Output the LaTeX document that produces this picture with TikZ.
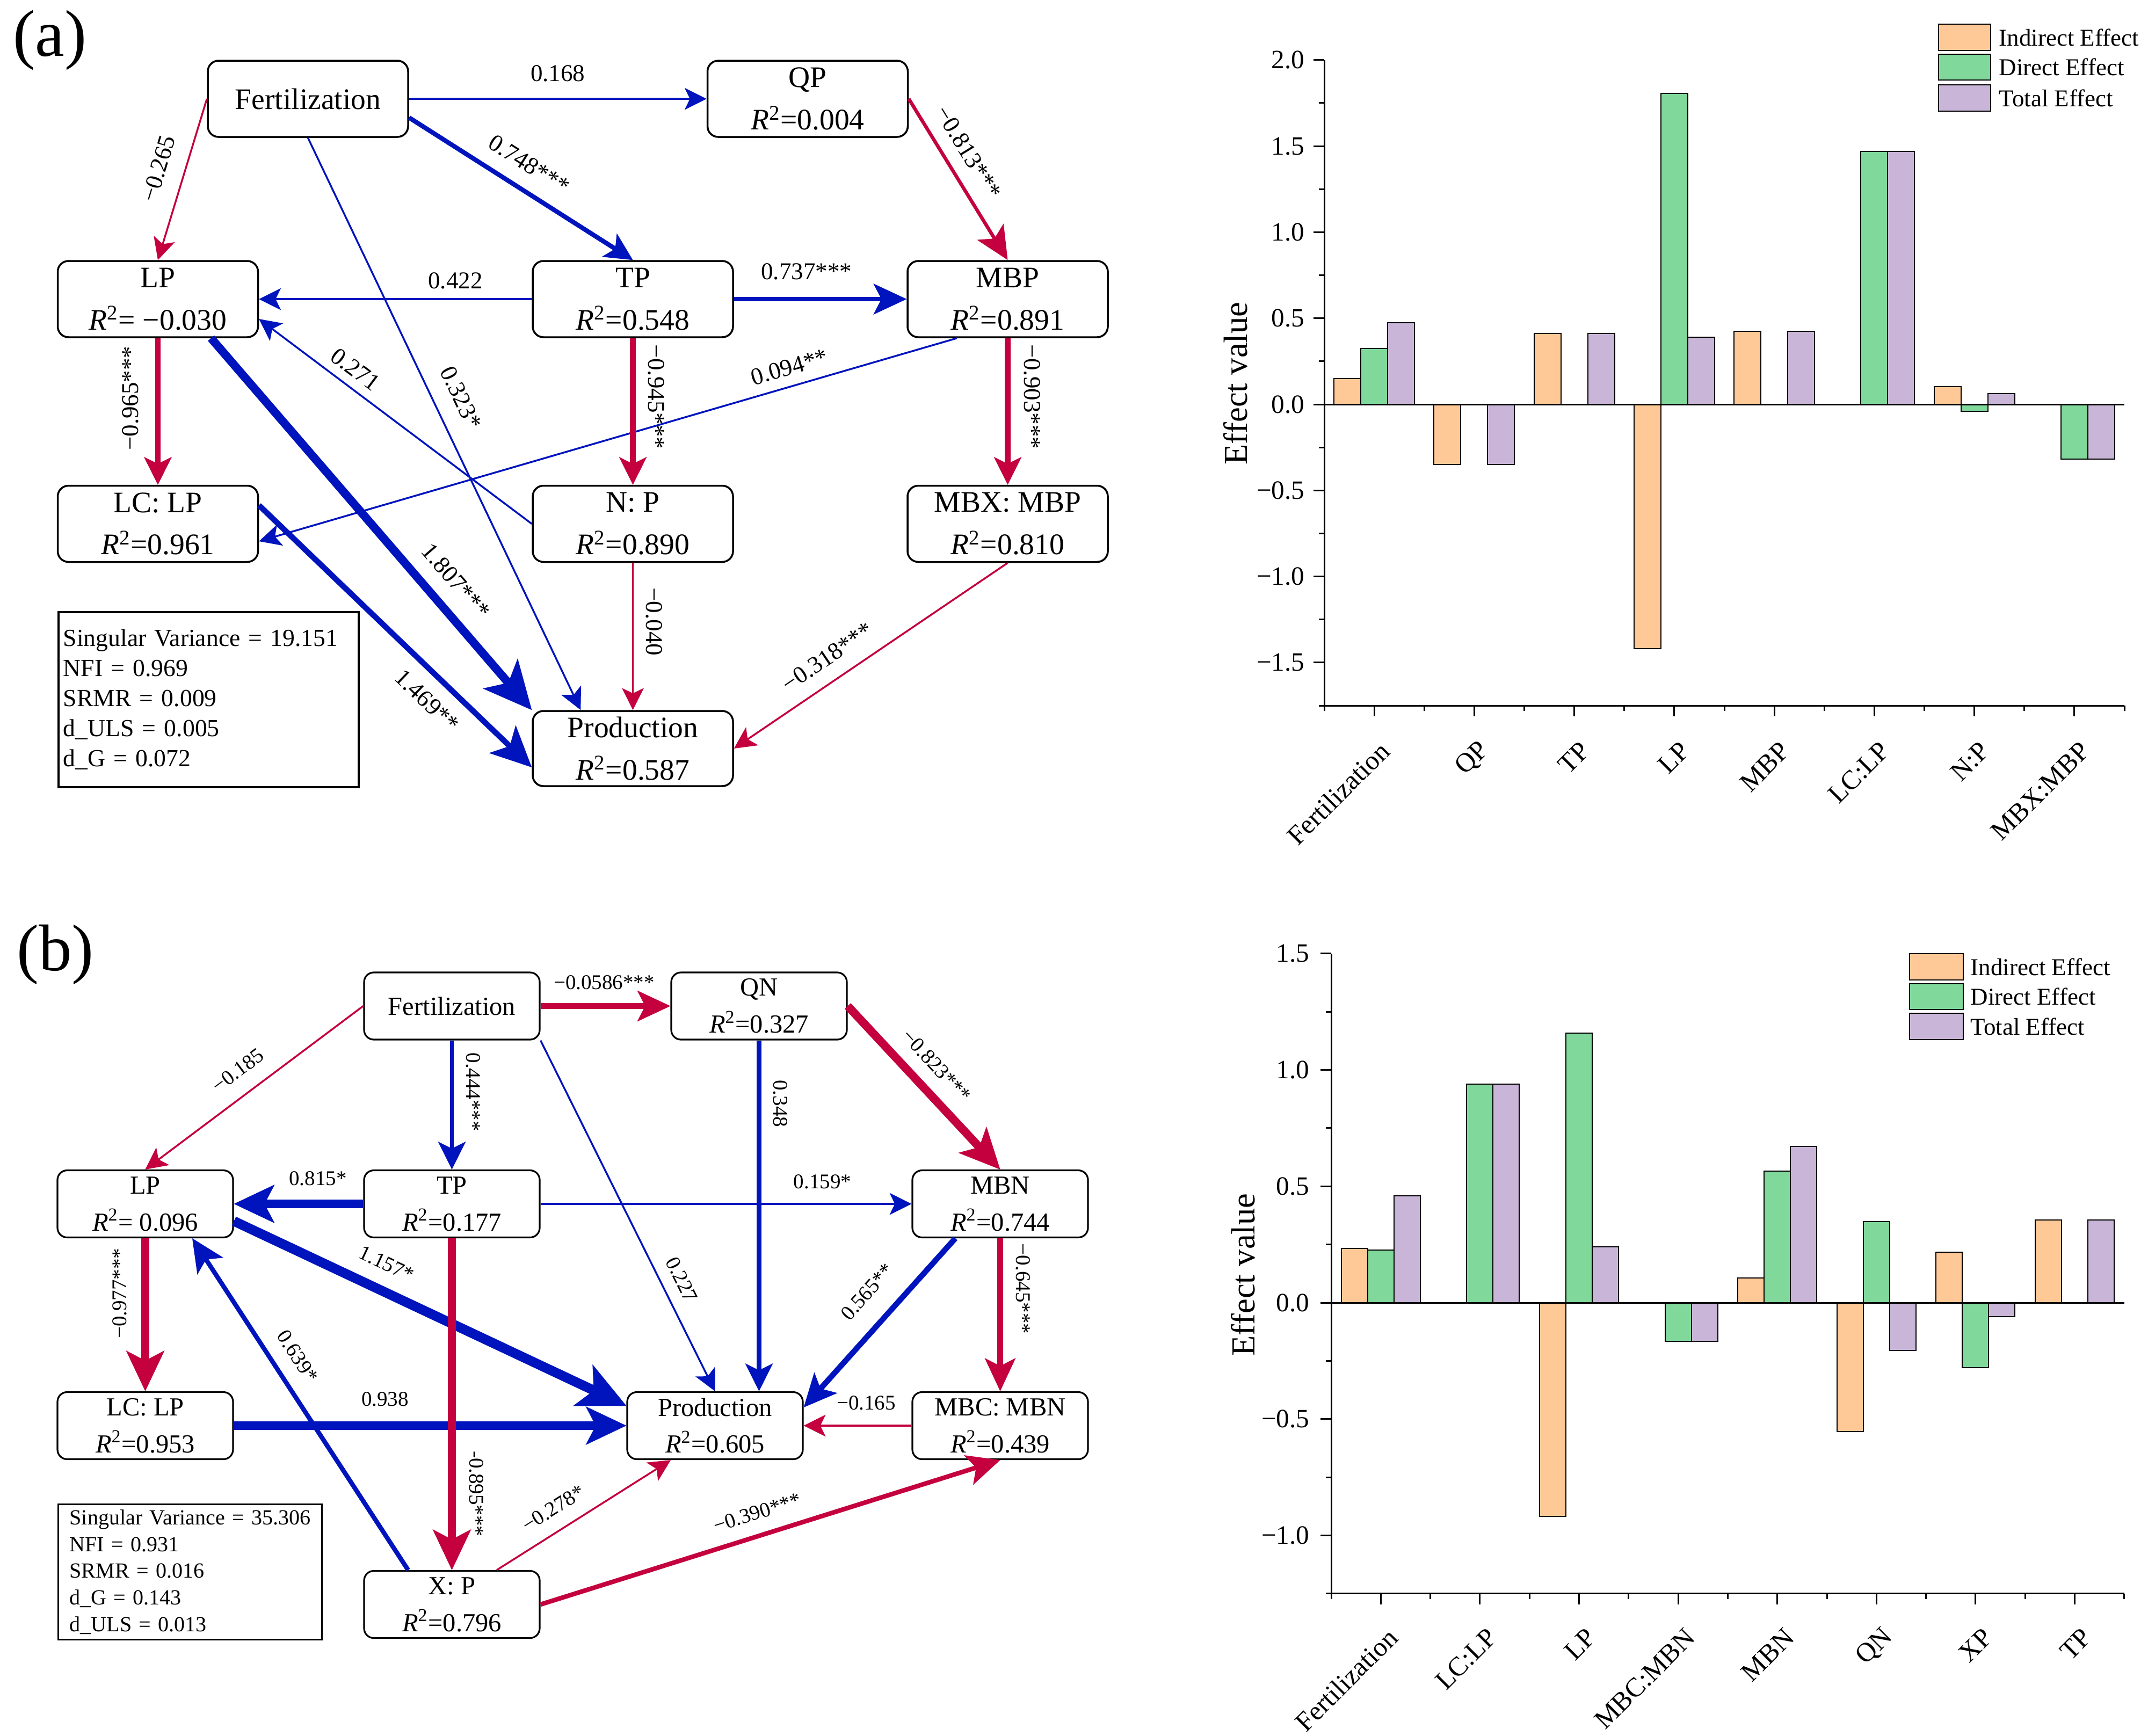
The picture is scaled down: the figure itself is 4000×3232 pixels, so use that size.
\documentclass[tikz,border=0pt]{standalone}
\usepackage{fontspec}
\setmainfont{Liberation Serif}
\usetikzlibrary{arrows.meta,calc}
\definecolor{blu}{RGB}{0,20,190}
\definecolor{rd}{RGB}{196,0,62}
\definecolor{cInd}{RGB}{255,201,151}
\definecolor{cDir}{RGB}{128,217,155}
\definecolor{cTot}{RGB}{201,181,215}
\newcommand\Rsq[1]{\textit{R}\textsuperscript{2}=#1}
\tikzset{
  boxa/.style={draw, line width=0.35mm, rounded corners=2mm, minimum width=37.3mm, minimum height=14.2mm, inner sep=0pt, align=center, font=\fontsize{15.8pt}{22.4pt}\selectfont},
  boxb/.style={draw, line width=0.32mm, rounded corners=1.8mm, minimum width=32.7mm, minimum height=12.5mm, inner sep=0pt, align=center, font=\fontsize{13.8pt}{19.6pt}\selectfont},
  laba/.style={font=\fontsize{12.8pt}{14pt}\selectfont, inner sep=0.3mm},
  labb/.style={font=\fontsize{11.1pt}{13pt}\selectfont, inner sep=0.3mm},
  panel/.style={font=\fontsize{35pt}{40pt}\selectfont, inner sep=0pt},
  statsa/.style={draw, line width=0.35mm, anchor=north west, minimum width=55.9mm, minimum height=32.6mm, inner xsep=0.9mm, inner ysep=0pt, text width=54.1mm, align=left, font=\fontsize{13pt}{15.9pt}\selectfont},
  statsb/.style={draw, line width=0.32mm, anchor=north west, minimum width=49.1mm, minimum height=25.2mm, inner xsep=2.1mm, inner ysep=0pt, text width=44.9mm, align=left, font=\fontsize{11.4pt}{14.2pt}\selectfont},
  pb/.style={draw=blu},
  pr/.style={draw=rd},
  wa/.style={line width=0.34mm},
  wb/.style={line width=0.45mm},
  wc/.style={line width=0.65mm},
  wd/.style={line width=0.85mm},
  we/.style={line width=1.05mm},
  wf/.style={line width=1.55mm},
  wg/.style={line width=1.8mm},
  tA/.style={-{Stealth[length=4.1mm,width=4.1mm,inset=1mm,line width=0pt]}},
  tB/.style={-{Stealth[length=5.2mm,width=5.2mm,inset=1.3mm,line width=0pt]}},
  tC/.style={-{Stealth[length=6.2mm,width=5.8mm,inset=1.5mm,line width=0pt]}},
  tD/.style={-{Stealth[length=7.6mm,width=7.2mm,inset=1.9mm,line width=0pt]}},
  tE/.style={-{Stealth[length=9.0mm,width=8.6mm,inset=2.3mm,line width=0pt]}},
  barline/.style={draw=black, line width=0.2mm},
  axisl/.style={draw=black, line width=0.3mm},
  ytl/.style={font=\fontsize{14pt}{16pt}\selectfont, inner sep=0pt},
  xtl/.style={font=\fontsize{14.3pt}{16pt}\selectfont, inner sep=0pt},
  ytitle/.style={font=\fontsize{17.8pt}{20pt}\selectfont, inner sep=0pt},
  legt/.style={font=\fontsize{12.8pt}{14pt}\selectfont, inner sep=0pt, anchor=west},
  legbox/.style={draw=black, line width=0.25mm}
}
\begin{document}
\begin{tikzpicture}[x=0.1mm,y=-0.1mm]
\fill[white] (0,0) rectangle (4000,3232);
\useasboundingbox (0,0) rectangle (4000,3232);

% ================= panel (a) diagram =================
\node[panel] (pa) at (93,75) {(a)};
\node[boxa] (fert) at (573.5,184) {Fertilization};
\node[boxa] (qp) at (1504,184) {QP\\\Rsq{0.004}};
\node[boxa] (lp) at (294,557) {LP\\\textit{R}\textsuperscript{2}= −0.030};
\node[boxa] (tp) at (1178.5,557) {TP\\\Rsq{0.548}};
\node[boxa] (mbp) at (1876.5,557) {MBP\\\Rsq{0.891}};
\node[boxa] (lclp) at (294,975.5) {LC: LP\\\Rsq{0.961}};
\node[boxa] (np) at (1178.5,975.5) {N: P\\\Rsq{0.890}};
\node[boxa] (mbx) at (1876.5,975.5) {MBX: MBP\\\Rsq{0.810}};
\node[boxa, minimum height=14mm] (prod) at (1178.5,1394) {Production\\\Rsq{0.587}};
\node[statsa] (sta) at (107,1138) {Singular Variance = 19.151\\NFI = 0.969\\SRMR = 0.009\\d\_ULS = 0.005\\d\_G = 0.072};

\draw[pb, wb, tA] (fert.east) -- node[laba, pos=.5, above=2.7mm] (la1) {0.168} (qp.west);
\draw[pb, wd, tB] ($(fert.east)+(0,35)$) -- node[laba, pos=.477, sloped, above=2.4mm] (la2) {0.748***} (tp.north);
\draw[pr, wa, tA] (fert.west) -- node[laba, pos=.48, sloped, above=2.85mm] (la3) {−0.265} (lp.north);
\draw[pb, wa, tA] (fert.south) -- node[laba, pos=.474, sloped, above=2.9mm] (la4) {0.323*} ($(prod.north west)+(91,0)$);
\draw[pb, wb, tA] (tp.west) -- node[laba, pos=.28, above=1.4mm] (la5) {0.422} (lp.east);
\draw[pb, wa, tA] (np.west) -- node[laba, pos=.685, sloped, above=1.3mm] (la6) {0.271} ($(lp.east)+(0,37)$);
\draw[pb, wf, tE] ($(lp.south)+(99,0)$) -- node[laba, pos=.70, sloped, above=2.4mm] (la7) {1.807***} (prod.north west);
\draw[pb, we, tD] ($(lclp.east)+(0,-34.5)$) -- node[laba, pos=.678, sloped, below=2.2mm] (la8) {1.469**} ($(prod.west)+(0,35)$);
\draw[pb, wd, tC] (tp.east) -- node[laba, pos=.42, above=2.9mm] (la9) {0.737***} (mbp.west);
\draw[pr, wc, tC] (qp.east) -- node[laba, pos=.406, sloped, above=2.1mm] (la10) {−0.813***} (mbp.north);
\draw[pb, wa, tA] ($(mbp.south)+(-94.5,0)$) -- node[laba, pos=.2325, sloped, above=1.55mm] (la11) {0.094**} ($(lclp.east)+(0,32.5)$);
\draw[pr, we, tB] (tp.south) -- node[laba, pos=.40, rotate=-90, anchor=south, yshift=2mm] (la12) {−0.945***} (np.north);
\draw[pr, we, tB] (mbp.south) -- node[laba, pos=.40, rotate=-90, anchor=south, yshift=2.2mm] (la13) {−0.903***} (mbx.north);
\draw[pr, we, tB] (lp.south) -- node[laba, pos=.41, rotate=90, anchor=south, yshift=2.8mm] (la14) {−0.965***} (lclp.north);
\draw[pr, wa, tA] (np.south) -- node[laba, pos=.40, rotate=-90, anchor=south, yshift=2mm] (la15) {−0.040} (prod.north);
\draw[pr, wa, tA] (mbx.south) -- node[laba, pos=.611, sloped, above=2.35mm] (la16) {−0.318***} (prod.east);

% ================= panel (b) diagram =================
\node[panel] (pbl) at (103,1778) {(b)};
\node[boxb] (fertb) at (841.5,1873.5) {Fertilization};
\node[boxb] (qn) at (1413.5,1873.5) {QN\\\Rsq{0.327}};
\node[boxb] (lpb) at (270.5,2242) {LP\\\textit{R}\textsuperscript{2}= 0.096};
\node[boxb] (tpb) at (841.5,2242) {TP\\\Rsq{0.177}};
\node[boxb] (mbn) at (1862.5,2242) {MBN\\\Rsq{0.744}};
\node[boxb] (lclpb) at (270.5,2655) {LC: LP\\\Rsq{0.953}};
\node[boxb] (prodb) at (1331.5,2655) {Production\\\Rsq{0.605}};
\node[boxb] (mbc) at (1862.5,2655) {MBC: MBN\\\Rsq{0.439}};
\node[boxb] (xp) at (841.5,2988) {X: P\\\Rsq{0.796}};
\node[statsb] (stb) at (107,2800) {Singular Variance = 35.306\\NFI = 0.931\\SRMR = 0.016\\d\_G = 0.143\\d\_ULS = 0.013};

\draw[pr, we, tC] (fertb.east) -- node[labb, pos=.49, above=2.2mm] (lb1) {−0.0586***} (qn.west);
\draw[pr, wa, tA] (fertb.west) -- node[labb, pos=.51, sloped, above=2.6mm] (lb2) {−0.185} (lpb.north);
\draw[pb, wc, tB] (fertb.south) -- node[labb, pos=.40, rotate=-90, anchor=south, yshift=2mm] (lb3) {0.444***} (tpb.north);
\draw[pb, wa, tA] (fertb.south east) -- node[labb, pos=.707, sloped, above=1.9mm] (lb4) {0.227} (prodb.north);
\draw[pb, wd, tB] (qn.south) -- node[labb, pos=.18, rotate=-90, anchor=south, yshift=1.9mm] (lb5) {0.348} (qn.south |- prodb.north);
\draw[pr, wf, tD] (qn.east) -- node[labb, pos=.466, sloped, above=2.1mm] (lb6) {−0.823***} (mbn.north);
\draw[pb, wf, tD] (tpb.west) -- node[labb, pos=.35, above=2.3mm] (lb7) {0.815*} (lpb.east);
\draw[pb, wb, tA] (tpb.east) -- node[labb, pos=.76, above=2.3mm] (lb8) {0.159*} (mbn.west);
\draw[pb, wg, tE] ($(lpb.east)+(0,32)$) -- node[labb, pos=.36, sloped, above=2.4mm] (lb9) {1.157*} ($(prodb.west)+(0,-37)$);
\draw[pr, wf, tD] (lpb.south) -- node[labb, pos=.36, rotate=90, anchor=south, yshift=2.4mm] (lb10) {−0.977***} (lclpb.north);
\draw[pb, wf, tD] (lclpb.east) -- node[labb, pos=.385, above=2.5mm] (lb11) {0.938} (prodb.west);
\draw[pb, wd, tC] ($(xp.north)+(-81.5,0)$) -- node[labb, pos=.605, sloped, above=2.4mm] (lb12) {0.639*} ($(lpb.south)+(87.5,0)$);
\draw[pr, wf, tD] (tpb.south) -- node[labb, pos=.77, rotate=-90, anchor=south, yshift=2.2mm] (lb13) {-0.895***} (xp.north);
\draw[pr, wa, tA] ($(xp.north)+(83.5,0)$) -- node[labb, pos=.392, sloped, above=2.3mm] (lb14) {−0.278*} ($(prodb.south)+(-82.5,0)$);
\draw[pr, wd, tC] (xp.east) -- node[labb, pos=.486, sloped, above=2.2mm] (lb15) {−0.390***} (mbc.south);
\draw[pb, we, tC] ($(mbn.south)+(-83.5,0)$) -- node[labb, pos=.434, sloped, above=3.4mm] (lb16) {0.565**} ($(prodb.east)+(0,-34)$);
\draw[pr, we, tC] (mbn.south) -- node[labb, pos=.33, rotate=-90, anchor=south, yshift=2.1mm] (lb17) {−0.645***} (mbc.north);
\draw[pr, wb, tA] (mbc.west) -- node[labb, pos=.42, above=2.4mm] (lb18) {−0.165} (prodb.east);

% ================= chart (a) =================
\begin{scope}[shift={(2466,753)}, xscale=186.25, yscale=-320.6]
  \foreach \i/\vi/\vd/\vt/\nm in {0/0.150/0.323/0.473/Fertilization, 1/-0.348/0/-0.348/QP, 2/0.413/0/0.413/TP, 3/-1.418/1.807/0.389/LP, 4/0.424/0/0.424/MBP, 5/0/1.469/1.469/LC:LP, 6/0.104/-0.040/0.064/N:P, 7/0/-0.318/-0.318/MBX:MBP}{
    \draw[barline, fill=cInd] (\i+0.0973,0) rectangle (\i+0.3658,\vi);
    \draw[barline, fill=cDir] (\i+0.3658,0) rectangle (\i+0.6342,\vd);
    \draw[barline, fill=cTot] (\i+0.6342,0) rectangle (\i+0.9027,\vt);
    \draw[axisl] (\i+0.5,-1.75) -- (\i+0.5,-1.8124);
    \node[xtl, rotate=45, anchor=east] (xa\i) at (\i+0.6074,-1.987) {\nm};
  }
  \foreach \x in {0,...,8} \draw[axisl] (\x,-1.75) -- (\x,-1.7812);
  \draw[axisl] (0,0) -- (8,0);
  \draw[axisl] (0,2) -- (0,-1.75) -- (8,-1.75);
  \foreach \v/\t [count=\k] in {2.0/2.0,1.5/1.5,1.0/1.0,0.5/0.5,0.0/0.0,-0.5/−0.5,-1.0/−1.0,-1.5/−1.5}{
    \draw[axisl] (0,\v) -- (-0.1074,\v);
    \node[ytl, anchor=east] (ya\k) at (-0.1933,\v) {\t};
  }
  \foreach \v in {-1.75,-1.25,...,1.75} \draw[axisl] (0,\v) -- (-0.0537,\v);
  \node[ytitle, rotate=90] (yta) at (-0.886,0.1216) {Effect value};
\end{scope}
\draw[legbox, fill=cInd] (3610,45) rectangle (3707,94);
\draw[legbox, fill=cDir] (3610,101) rectangle (3707,149);
\draw[legbox, fill=cTot] (3610,158) rectangle (3707,207);
\node[legt] (lga1) at (3722,69.5) {Indirect Effect};
\node[legt] (lga2) at (3722,125) {Direct Effect};
\node[legt] (lga3) at (3722,182.5) {Total Effect};

% ================= chart (b) =================
\begin{scope}[shift={(2479,2426)}, xscale=184.6, yscale=-433.5]
  \foreach \i/\vi/\vd/\vt/\nm in {0/0.232/0.227/0.459/Fertilization, 1/0/0.938/0.938/LC:LP, 2/-0.917/1.157/0.240/LP, 3/0/-0.165/-0.165/MBC:MBN, 4/0.106/0.565/0.671/MBN, 5/-0.553/0.348/-0.205/QN, 6/0.217/-0.278/-0.061/XP, 7/0.355/0/0.355/TP}{
    \draw[barline, fill=cInd] (\i+0.102,0) rectangle (\i+0.3673,\vi);
    \draw[barline, fill=cDir] (\i+0.3673,0) rectangle (\i+0.6327,\vd);
    \draw[barline, fill=cTot] (\i+0.6327,0) rectangle (\i+0.898,\vt);
    \draw[axisl] (\i+0.5,-1.25) -- (\i+0.5,-1.2961);
    \node[xtl, rotate=45, anchor=east] (xb\i) at (\i+0.6246,-1.4187) {\nm};
  }
  \foreach \x in {0,...,8} \draw[axisl] (\x,-1.25) -- (\x,-1.2731);
  \draw[axisl] (0,0) -- (8,0);
  \draw[axisl] (0,1.5) -- (0,-1.25) -- (8,-1.25);
  \foreach \v/\t [count=\k] in {1.5/1.5,1.0/1.0,0.5/0.5,0.0/0.0,-0.5/−0.5,-1.0/−1.0}{
    \draw[axisl] (0,\v) -- (-0.1083,\v);
    \node[ytl, anchor=east] (yb\k) at (-0.2167,\v) {\t};
  }
  \foreach \v in {-1.25,-0.75,...,1.25} \draw[axisl] (0,\v) -- (-0.0542,\v);
  \node[ytitle, rotate=90] (ytb) at (-0.8895,0.12) {Effect value};
\end{scope}
\draw[legbox, fill=cInd] (3556,1776) rectangle (3656,1825);
\draw[legbox, fill=cDir] (3556,1832) rectangle (3656,1880);
\draw[legbox, fill=cTot] (3556,1887) rectangle (3656,1936);
\node[legt] (lgb1) at (3669,1800.5) {Indirect Effect};
\node[legt] (lgb2) at (3669,1856) {Direct Effect};
\node[legt] (lgb3) at (3669,1911.5) {Total Effect};
\end{tikzpicture}
\end{document}
